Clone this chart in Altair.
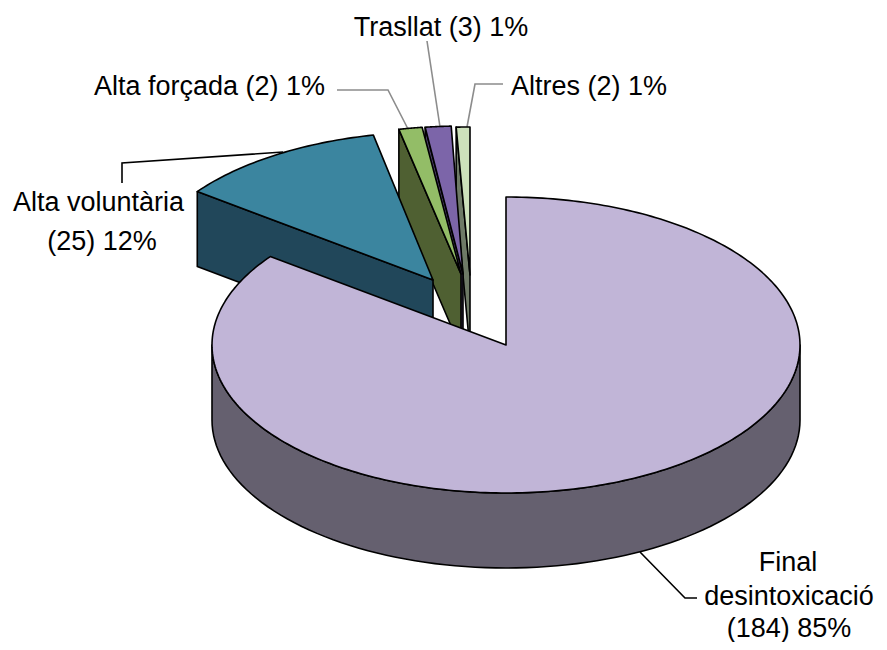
import math
import altair as alt

# Data
names = ["Final desintoxicació", "Alta voluntària", "Alta forçada", "Trasllat", "Altres"]
counts = [184, 25, 2, 3, 2]
# rim angles in degrees, clockwise from 12 o'clock, as drawn
angle_from = [0, 306.7, 347.8, 352.6, 357.3]
angle_to = [306.7, 348.3, 352.4, 357.7, 360]
# position of each exploded slice's apex
apex_x = [506, 433, 461, 463, 470]
apex_y = [345, 280, 274, 274, 275]
top_colors = ["#C1B5D7", "#3B859F", "#93BD67", "#7C65A9", "#CDE1BB"]
side_colors = ["#65606F", "#21475A", "#4F6032", "#4B3D66", "#6E7A66"]

label_text = ["Trasllat (3) 1%", "Alta forçada (2) 1%", "Altres (2) 1%", "Alta voluntària", "(25) 12%",
              "Final", "desintoxicació", "(184) 85%"]
label_x = [441, 209.5, 589, 98.5, 102, 788, 789, 789]
label_y = [36, 95, 95, 211, 250, 571, 605, 637]

RX, RY, DEPTH = 294, 148, 75
OFFSET = 8


def rim(cx, cy, deg, drop=0):
    a = math.radians(deg)
    return [cx + RX * math.sin(a), cy - RY * math.cos(a) + drop]


def polygon(points, fill):
    ring = points + [points[0]]
    return {"type": "Feature", "properties": {"fill": fill},
            "geometry": {"type": "Polygon", "coordinates": [ring]}}


def line(points, colour):
    return {"type": "Feature", "properties": {"stroke": colour},
            "geometry": {"type": "LineString", "coordinates": points}}


shapes = []
# back to front: Altres, Trasllat, Alta forçada, Alta voluntària, Final
for i in [4, 3, 2, 1]:
    cx, cy = apex_x[i], apex_y[i]
    a0, a1 = angle_from[i], angle_to[i]
    shapes.append(polygon([[cx, cy], rim(cx, cy, a0), rim(cx, cy, a0, DEPTH), [cx, cy + DEPTH]], side_colors[i]))
    arc = [rim(cx, cy, a0 + (a1 - a0) * k / 40) for k in range(41)]
    shapes.append(polygon([[cx, cy]] + arc, top_colors[i]))

cx, cy = apex_x[0], apex_y[0]
front = [rim(cx, cy, d) for d in range(90, 271, 2)]
front_low = [rim(cx, cy, d, DEPTH) for d in range(270, 89, -2)]
shapes.append(polygon(front + front_low, side_colors[0]))
arc = [rim(cx, cy, angle_from[0] + (angle_to[0] - angle_from[0]) * k / 300) for k in range(301)]
shapes.append(polygon([[cx, cy]] + arc, top_colors[0]))

leaders = [
    line([[122, 183], [122, 163], [283, 152]], "#000000"),
    line([[337, 90], [388, 90], [408, 129]], "#8C8C8C"),
    line([[427, 41], [440, 127]], "#8C8C8C"),
    line([[503, 84], [475, 84], [467, 127]], "#8C8C8C"),
    line([[640, 552], [685, 598], [697, 598]], "#000000"),
]

labels = [{"t": t, "x": x, "y": y} for t, x, y in zip(label_text, label_x, label_y)]

projection = alt.Projection(type="identity", scale=1, translate=[-OFFSET, -OFFSET])

faces = alt.Chart(alt.Data(values=shapes)).mark_geoshape(stroke="#000000", strokeWidth=1.6, strokeJoin="round").encode(
    fill=alt.Fill("properties.fill:N", scale=None)
)
lines = alt.Chart(alt.Data(values=leaders)).mark_geoshape(filled=False, strokeWidth=1.6).encode(
    stroke=alt.Stroke("properties.stroke:N", scale=None)
)
text = alt.Chart(alt.Data(values=labels)).mark_text(
    font="Liberation Sans", fontSize=27, align="center", baseline="alphabetic", color="#000000"
).encode(longitude="x:Q", latitude="y:Q", text="t:N")

chart = alt.layer(lines, faces, text).properties(
    width=871, height=634, padding=0, projection=projection
).configure_view(stroke=None).configure(autosize=alt.AutoSizeParams(type="none"))

chart.save("out.html", embed_options={"renderer": "svg", "actions": False})
